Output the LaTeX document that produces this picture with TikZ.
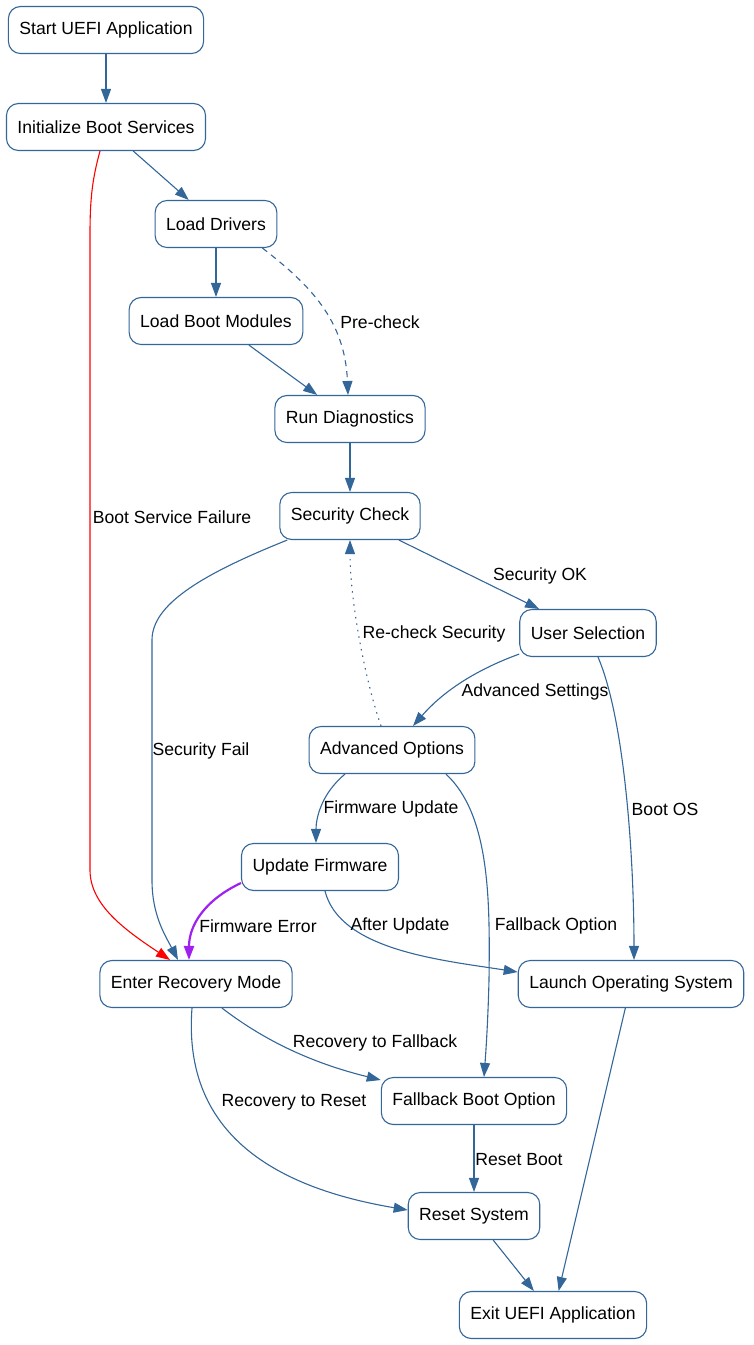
\documentclass[tikz,border=0pt]{standalone}
\usepackage{fontspec}
\setmainfont{Liberation Sans}
\usetikzlibrary{arrows.meta}
\definecolor{edgeblue}{HTML}{336699}
\definecolor{fwpurple}{HTML}{A020F0}
\begin{document}
\begin{tikzpicture}[x=1pt,y=-1pt,
  every node/.style={font=\fontsize{17.6}{21}\selectfont},
  box/.style={draw=edgeblue, fill=white, rounded corners=12pt, line width=1.1pt,
    minimum height=47pt, inner xsep=11pt},
  lbl/.style={inner sep=1pt},
  conn/.style={draw=edgeblue, line width=1.1pt, -{Triangle[length=14pt,width=10pt]}},
]
\useasboundingbox (0,0) rectangle (753,1345);
\node[box] (start) at (106,30) {Start UEFI Application};
\node[box] (init) at (106,127) {Initialize Boot Services};
\node[box] (ld) at (216,224) {Load Drivers};
\node[box] (lbm) at (216,321) {Load Boot Modules};
\node[box] (rd) at (350,419) {Run Diagnostics};
\node[box] (sc) at (350,516) {Security Check};
\node[box] (us) at (588,633) {User Selection};
\node[box] (ao) at (392,750) {Advanced Options};
\node[box] (uf) at (320,867) {Update Firmware};
\node[box] (rec) at (196,984) {Enter Recovery Mode};
\node[box] (lo) at (631,984) {Launch Operating System};
\node[box] (fb) at (474,1101) {Fallback Boot Option};
\node[box] (rs) at (474,1216) {Reset System};
\node[box] (exit) at (553,1315) {Exit UEFI Application};

% edges
\draw[conn] (start) -- (init);
\draw[conn] (init) -- (ld);
\draw[conn, draw=red, -{Triangle[length=14pt,width=10pt,fill=red]}, red]
  ([xshift=-6pt]init.south) .. controls (92,180) and (90,200) .. (90,235)
  -- (90,870) .. controls (90,905) and (125,930) .. ([xshift=-26pt]rec.north);
\draw[conn] (ld) -- (lbm);
\draw[conn, dashed, dash pattern=on 6pt off 5pt]
  ([xshift=-15pt]ld.south east) .. controls (310,285) and (345,320) .. ([xshift=-2pt]rd.north);
\draw[conn] (lbm) -- (rd);
\draw[conn] (rd) -- (sc);
\draw[conn] (sc) -- (us);
\draw[conn]
  ([xshift=8pt]sc.south west) .. controls (200,575) and (152,605) .. (152,640)
  -- (152,880) .. controls (152,915) and (165,935) .. ([xshift=-18pt]rec.north);
\draw[conn]
  ([yshift=3pt]us.south west) .. controls (470,672) and (440,695) .. ([xshift=21pt]ao.north);
\draw[conn, dotted, dash pattern=on 1.5pt off 5pt]
  ([xshift=-11pt]ao.north) .. controls (365,680) and (350,600) .. (sc.south);
\draw[conn]
  ([xshift=10pt]us.south) .. controls (625,720) and (634,860) .. ([xshift=3pt]lo.north);
\draw[conn]
  ([xshift=-47pt]ao.south) .. controls (320,795) and (316,820) .. ([xshift=-4pt]uf.north);
\draw[conn]
  ([xshift=54pt]ao.south) .. controls (490,815) and (490,900) .. (489,980)
  .. controls (488,1020) and (486,1050) .. ([xshift=10pt]fb.north);
\draw[conn, draw=fwpurple, line width=2.2pt, -{Triangle[length=14pt,width=10pt,fill=fwpurple]}]
  ([yshift=-16pt]uf.west) .. controls (205,900) and (189,925) .. ([xshift=-7pt]rec.north);
\draw[conn]
  ([xshift=5pt]uf.south) .. controls (340,950) and (440,960) .. ([yshift=12pt]lo.west);
\draw[conn]
  ([xshift=26pt]rec.south) .. controls (270,1045) and (320,1065) .. ([yshift=21pt]fb.west);
\draw[conn]
  ([xshift=-4pt]rec.south) .. controls (185,1100) and (230,1180) .. ([yshift=6pt]rs.west);
\draw[conn] (fb) -- (rs);
\draw[conn] (rs) -- (exit);
\draw[conn] (lo) -- (exit);

% labels
\node[lbl] (l1) at (172,517) {Boot Service Failure};
\node[lbl] (l2) at (380,322) {Pre-check};
\node[lbl] (l3) at (540,576) {Security OK};
\node[lbl] (l4) at (201,751) {Security Fail};
\node[lbl] (l5) at (535,692) {Advanced Settings};
\node[lbl] (l6) at (434,634) {Re-check Security};
\node[lbl] (l7) at (665,809) {Boot OS};
\node[lbl] (l8) at (391,809) {Firmware Update};
\node[lbl] (l9) at (556,926) {Fallback Option};
\node[lbl] (l10) at (258,926) {Firmware Error};
\node[lbl] (l11) at (400,926) {After Update};
\node[lbl] (l12) at (375,1043) {Recovery to Fallback};
\node[lbl] (l13) at (294,1102) {Recovery to Reset};
\node[lbl] (l14) at (519,1160) {Reset Boot};
\end{tikzpicture}
\end{document}
